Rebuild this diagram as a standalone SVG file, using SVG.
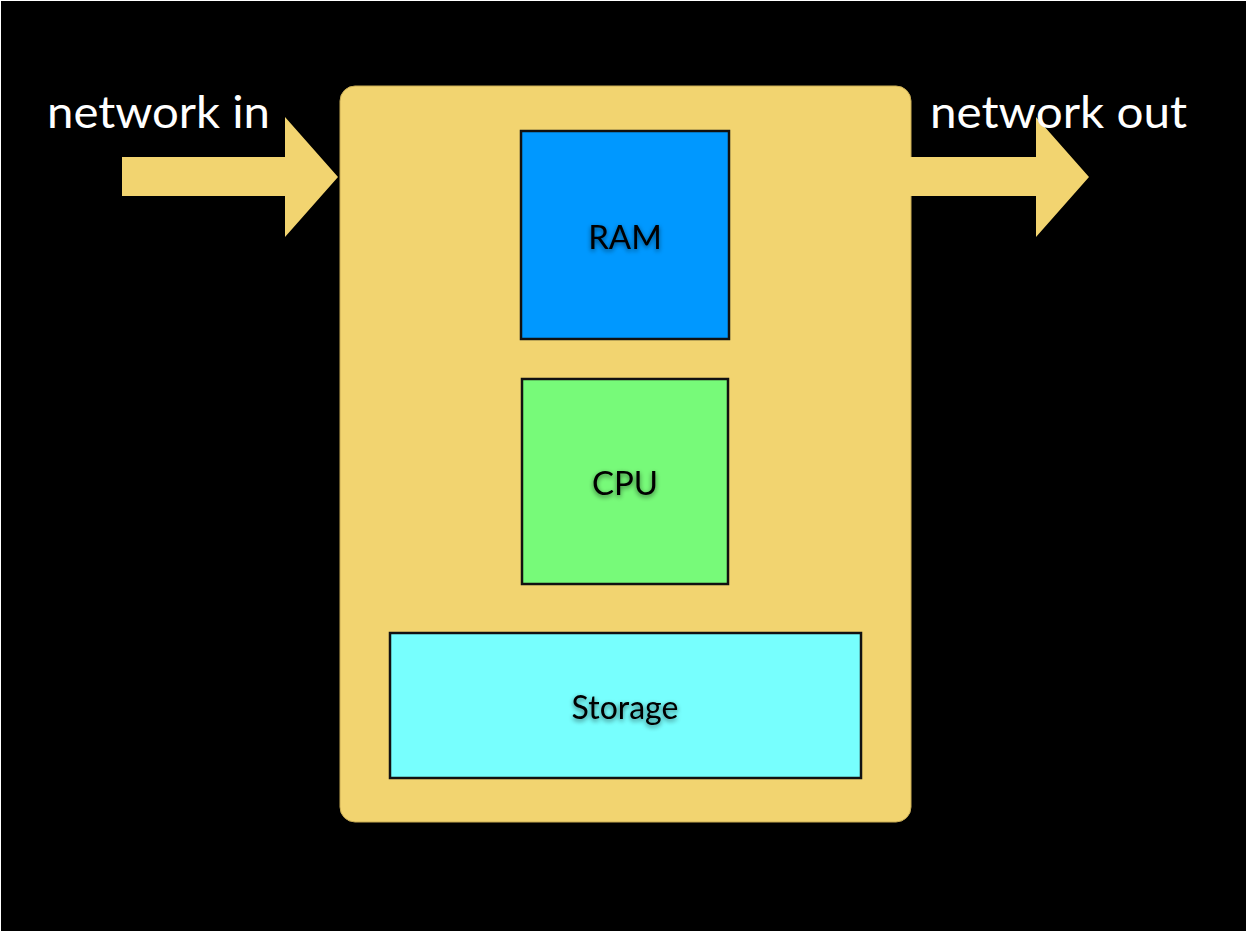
<svg xmlns="http://www.w3.org/2000/svg" width="1249" height="933" viewBox="0 0 1249 933">
  <defs>
    <style>
      .yel { fill: #F2D470; }
      .box { stroke: #111; stroke-width: 2.5; }
      .lbl { font-family: Lato, "Open Sans", "Liberation Sans", sans-serif; fill: #000; text-anchor: middle; }
      .net { font-family: Lato, "Open Sans", "Liberation Sans", sans-serif; fill: #fff; font-size: 45px; }
    </style>
    <filter id="glow" x="-20%" y="-40%" width="140%" height="180%">
      <feGaussianBlur in="SourceAlpha" stdDeviation="2.5" result="b"/>
      <feOffset in="b" dy="1.5" result="o"/>
      <feComponentTransfer in="o" result="s"><feFuncA type="linear" slope="0.55"/></feComponentTransfer>
      <feMerge><feMergeNode in="s"/><feMergeNode in="SourceGraphic"/></feMerge>
    </filter>
  </defs>
  <rect x="0" y="0" width="1249" height="933" fill="#fff"/>
  <rect x="1" y="1" width="1245" height="930" fill="#000"/>

  <g id="server">
    <rect class="yel" x="340" y="86" width="571" height="736" rx="15" ry="15" stroke="#c9ac55" stroke-width="1"/>
  </g>

  <g id="connectors">
    <polygon class="yel" points="122,157 285,157 285,117 338,177 285,237 285,196 122,196"/>
    <polygon class="yel" points="909,157 1036,157 1036,117 1089,177 1036,237 1036,196 909,196"/>
  </g>

  <g id="ram">
    <rect class="box" x="521" y="131" width="208" height="208" fill="#0098FF"/>
    <text class="lbl" x="625" y="249" font-size="33" filter="url(#glow)">RAM</text>
  </g>

  <g id="cpu">
    <rect class="box" x="522" y="379" width="206" height="205" fill="#77FA79"/>
    <text class="lbl" x="625" y="495" font-size="33" filter="url(#glow)">CPU</text>
  </g>

  <g id="storage">
    <rect class="box" x="390" y="633" width="471" height="145" fill="#77FFFE"/>
    <text class="lbl" x="625" y="719" font-size="32" filter="url(#glow)">Storage</text>
  </g>

  <g id="label-in">
    <text class="net" x="47" y="128" textLength="223" lengthAdjust="spacingAndGlyphs">network in</text>
  </g>
  <g id="label-out">
    <text class="net" x="930" y="128" textLength="257" lengthAdjust="spacingAndGlyphs">network out</text>
  </g>
</svg>
